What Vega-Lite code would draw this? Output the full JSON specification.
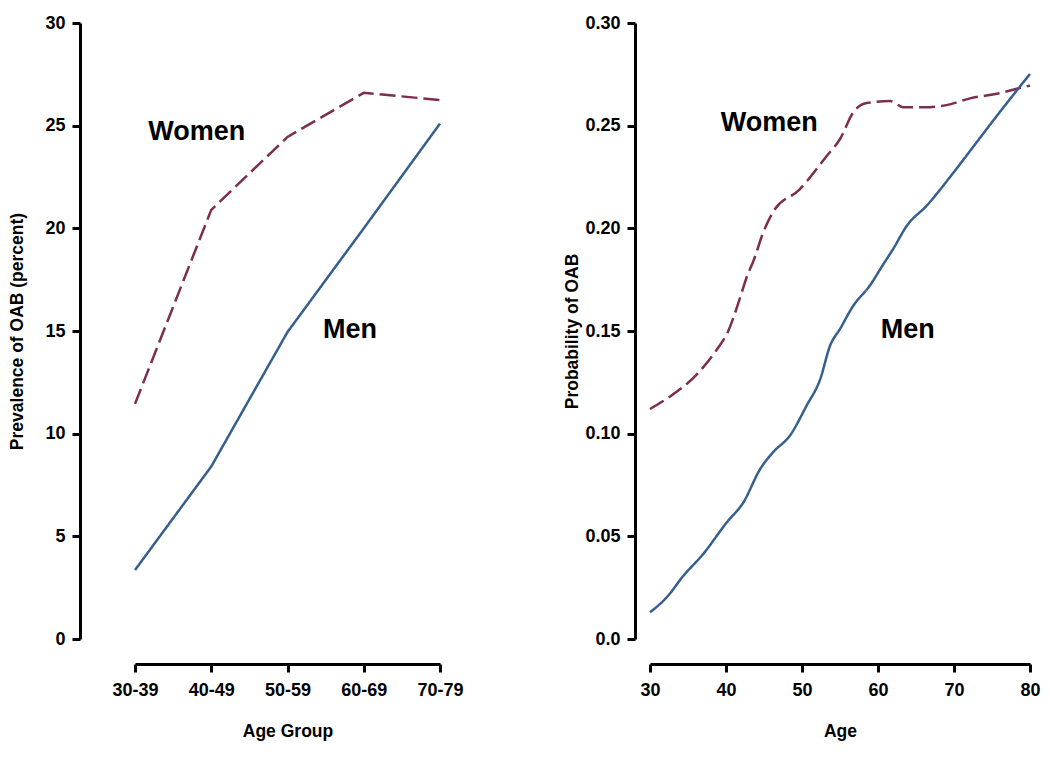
{
  "$schema": "https://vega.github.io/schema/vega-lite/v6.json",
  "background": "white",
  "padding": {"left": 8, "top": 14, "right": 5, "bottom": 5},
  "config": {
    "view": {"stroke": null},
    "axis": {
      "labelFont": "Liberation Sans", "labelFontWeight": "bold", "labelFontSize": 18, "labelColor": "black",
      "titleFont": "Liberation Sans", "titleFontWeight": "bold", "titleFontSize": 17.5, "titleColor": "black",
      "domainColor": "black", "domainWidth": 3, "tickColor": "black", "tickWidth": 3, "tickSize": 8,
      "grid": false, "labelPadding": 7, "labelFlush": false, "labelOverlap": false
    }
  },
  "spacing": 99,
  "hconcat": [
    {
      "width": 305,
      "height": 616,
      "layer": [
        {
          "data": {"values": [
            {"sex": "Women", "idx": 1, "pct": 11.45},
            {"sex": "Women", "idx": 2, "pct": 20.9},
            {"sex": "Women", "idx": 3, "pct": 24.45},
            {"sex": "Women", "idx": 4, "pct": 26.6},
            {"sex": "Women", "idx": 5, "pct": 26.25},
            {"sex": "Men", "idx": 1, "pct": 3.36},
            {"sex": "Men", "idx": 2, "pct": 8.4},
            {"sex": "Men", "idx": 3, "pct": 14.95},
            {"sex": "Men", "idx": 4, "pct": 20.0},
            {"sex": "Men", "idx": 5, "pct": 25.1}
          ]},
          "mark": {"type": "line", "strokeWidth": 2.5},
          "encoding": {
            "x": {"field": "idx", "type": "quantitative", "scale": {"domain": [1, 5], "nice": false},
              "axis": {"title": "Age Group", "values": [1, 2, 3, 4, 5], "offset": 25, "labelPadding": 9, "titlePadding": 23,
                "labelExpr": "['30-39','40-49','50-59','60-69','70-79'][datum.value-1]"}},
            "y": {"field": "pct", "type": "quantitative", "scale": {"domain": [0, 30], "nice": false},
              "axis": {"title": "Prevalence of OAB (percent)", "values": [0, 5, 10, 15, 20, 25, 30], "offset": 55, "titlePadding": 18}},
            "color": {"field": "sex", "type": "nominal", "scale": {"domain": ["Women", "Men"], "range": ["#7d2d4d", "#355f8c"]}, "legend": null},
            "strokeDash": {"field": "sex", "type": "nominal", "scale": {"domain": ["Women", "Men"], "range": [[16, 6], [1, 0]]}, "legend": null}
          }
        },
        {
          "data": {"values": [
            {"label": "Women", "idx": 1.81, "pct": 24.7},
            {"label": "Men", "idx": 3.82, "pct": 15.05}
          ]},
          "mark": {"type": "text", "font": "Liberation Sans", "fontWeight": "bold", "fontSize": 27, "color": "black", "align": "center", "baseline": "middle"},
          "encoding": {
            "x": {"field": "idx", "type": "quantitative"},
            "y": {"field": "pct", "type": "quantitative"},
            "text": {"field": "label"}
          }
        }
      ]
    },
    {
      "width": 380,
      "height": 616,
      "layer": [
        {
          "data": {"values": [
            {"sex": "Women", "age": 30, "p": 0.112},
            {"sex": "Women", "age": 32.6, "p": 0.118},
            {"sex": "Women", "age": 36.2, "p": 0.129},
            {"sex": "Women", "age": 38.8, "p": 0.141},
            {"sex": "Women", "age": 40.3, "p": 0.150},
            {"sex": "Women", "age": 41.8, "p": 0.1656},
            {"sex": "Women", "age": 42.8, "p": 0.177},
            {"sex": "Women", "age": 43.6, "p": 0.184},
            {"sex": "Women", "age": 44.9, "p": 0.198},
            {"sex": "Women", "age": 46.2, "p": 0.208},
            {"sex": "Women", "age": 49.7, "p": 0.219},
            {"sex": "Women", "age": 53.2, "p": 0.235},
            {"sex": "Women", "age": 55.0, "p": 0.2435},
            {"sex": "Women", "age": 56.75, "p": 0.2565},
            {"sex": "Women", "age": 58.5, "p": 0.261},
            {"sex": "Women", "age": 61.6, "p": 0.262},
            {"sex": "Women", "age": 63.3, "p": 0.259},
            {"sex": "Women", "age": 66.0, "p": 0.259},
            {"sex": "Women", "age": 69.0, "p": 0.260},
            {"sex": "Women", "age": 72.1, "p": 0.2633},
            {"sex": "Women", "age": 75.6, "p": 0.2655},
            {"sex": "Women", "age": 78.25, "p": 0.268},
            {"sex": "Women", "age": 80, "p": 0.2695},
            {"sex": "Men", "age": 30, "p": 0.013},
            {"sex": "Men", "age": 32.2, "p": 0.0203},
            {"sex": "Men", "age": 34.4, "p": 0.0308},
            {"sex": "Men", "age": 37.0, "p": 0.0414},
            {"sex": "Men", "age": 40.1, "p": 0.0568},
            {"sex": "Men", "age": 42.3, "p": 0.0666},
            {"sex": "Men", "age": 44.5, "p": 0.0828},
            {"sex": "Men", "age": 46.2, "p": 0.091},
            {"sex": "Men", "age": 48.4, "p": 0.099},
            {"sex": "Men", "age": 50.6, "p": 0.1136},
            {"sex": "Men", "age": 52.4, "p": 0.1266},
            {"sex": "Men", "age": 53.7, "p": 0.1429},
            {"sex": "Men", "age": 55.0, "p": 0.151},
            {"sex": "Men", "age": 56.75, "p": 0.1623},
            {"sex": "Men", "age": 58.9, "p": 0.172},
            {"sex": "Men", "age": 60.7, "p": 0.1825},
            {"sex": "Men", "age": 62.0, "p": 0.19},
            {"sex": "Men", "age": 63.8, "p": 0.2013},
            {"sex": "Men", "age": 66.4, "p": 0.211},
            {"sex": "Men", "age": 69.9, "p": 0.227},
            {"sex": "Men", "age": 73.0, "p": 0.242},
            {"sex": "Men", "age": 76.0, "p": 0.2565},
            {"sex": "Men", "age": 80, "p": 0.2752}
          ]},
          "mark": {"type": "line", "strokeWidth": 2.5, "interpolate": "monotone"},
          "encoding": {
            "x": {"field": "age", "type": "quantitative", "scale": {"domain": [30, 80], "nice": false},
              "axis": {"title": "Age", "values": [30, 40, 50, 60, 70, 80], "offset": 25, "labelPadding": 9, "titlePadding": 23}},
            "y": {"field": "p", "type": "quantitative", "scale": {"domain": [0, 0.3], "nice": false},
              "axis": {"title": "Probability of OAB", "values": [0, 0.05, 0.1, 0.15, 0.2, 0.25, 0.3], "offset": 15, "titlePadding": 3,
                "labelExpr": "datum.value == 0 ? '0.0' : format(datum.value, '.2f')"}},
            "color": {"field": "sex", "type": "nominal", "scale": {"domain": ["Women", "Men"], "range": ["#7d2d4d", "#355f8c"]}, "legend": null},
            "strokeDash": {"field": "sex", "type": "nominal", "scale": {"domain": ["Women", "Men"], "range": [[16, 6], [1, 0]]}, "legend": null}
          }
        },
        {
          "data": {"values": [
            {"label": "Women", "age": 45.7, "p": 0.2513},
            {"label": "Men", "age": 63.9, "p": 0.1505}
          ]},
          "mark": {"type": "text", "font": "Liberation Sans", "fontWeight": "bold", "fontSize": 27, "color": "black", "align": "center", "baseline": "middle"},
          "encoding": {
            "x": {"field": "age", "type": "quantitative"},
            "y": {"field": "p", "type": "quantitative"},
            "text": {"field": "label"}
          }
        }
      ]
    }
  ]
}
